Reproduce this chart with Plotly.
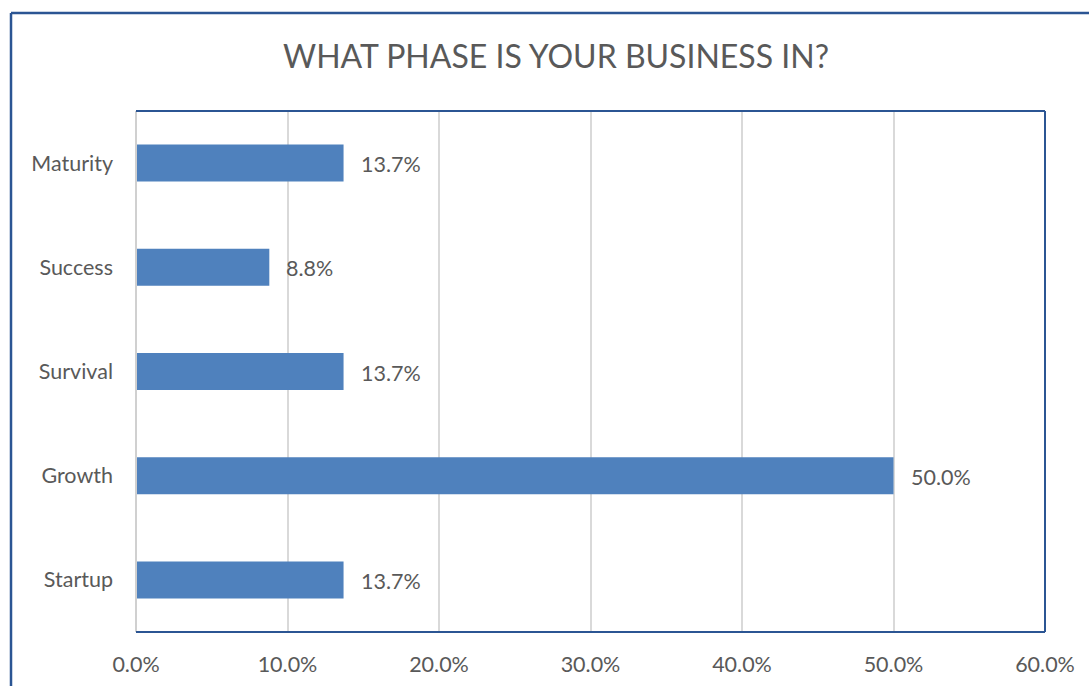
import plotly.graph_objects as go

# Survey results: business phase distribution
phases = ["Startup", "Growth", "Survival", "Success", "Maturity"]
shares = [13.7, 50.0, 13.7, 8.8, 13.7]
tick_vals = [0, 10, 20, 30, 40, 50, 60]
tick_text = ["0.0%", "10.0%", "20.0%", "30.0%", "40.0%", "50.0%", "60.0%"]

W, H = 1089, 686
L, R, T, B = 136, 44, 111, 54
pw, ph = W - L - R, H - T - B

def px_x(p):
    return (p - L) / pw

def px_y(p):
    return (H - B - p) / ph

BAR = "#4F81BD"
TXT = "#595959"
FRAME = "#2B5593"
FONT = "Lato"
FS = 21.5

fig = go.Figure(go.Bar(
    x=shares, y=phases, orientation="h",
    marker=dict(color=BAR, line=dict(width=0)),
    width=0.355, hoverinfo="skip",
))

for v, c in zip(shares, phases):
    fig.add_annotation(x=v, y=c, text=f"{v:.1f}%", showarrow=False,
                       xanchor="left", xshift=15, yshift=-1,
                       font=dict(family=FONT, size=FS, color=TXT))

shapes = [
    # gray zero line on the left edge
    dict(type="line", xref="paper", yref="paper", x0=0, x1=0, y0=0, y1=1,
         line=dict(color="#D0D0D0", width=2)),
    # plot-area border (top, right, bottom)
    dict(type="line", xref="paper", yref="paper", x0=0, x1=1, y0=1, y1=1,
         line=dict(color=FRAME, width=2)),
    dict(type="line", xref="paper", yref="paper", x0=1, x1=1, y0=0, y1=1,
         line=dict(color=FRAME, width=2)),
    dict(type="line", xref="paper", yref="paper", x0=0, x1=1, y0=0, y1=0,
         line=dict(color=FRAME, width=2)),
    # outer chart frame
    dict(type="line", xref="paper", yref="paper", x0=px_x(11), x1=px_x(11),
         y0=px_y(13), y1=px_y(700), line=dict(color=FRAME, width=2.5)),
    dict(type="line", xref="paper", yref="paper", x0=px_x(11), x1=px_x(1100),
         y0=px_y(13), y1=px_y(13), line=dict(color=FRAME, width=2.5)),
]

fig.update_layout(
    width=W, height=H,
    margin=dict(l=L, r=R, t=T, b=B, pad=0, autoexpand=False),
    paper_bgcolor="white", plot_bgcolor="white",
    showlegend=False,
    shapes=shapes,
    title=dict(text="WHAT PHASE IS YOUR BUSINESS IN?", x=px_x(556), xref="paper",
               xanchor="center", y=1 - 57 / H, yanchor="middle",
               font=dict(family=FONT, size=32, color=TXT)),
    xaxis=dict(range=[0, 60], tickvals=tick_vals, ticktext=tick_text,
               showgrid=True, gridcolor="#D9D9D9", gridwidth=1.5,
               zeroline=False, showline=False, ticks="", automargin=False,
               ticklabelstandoff=17,
               tickfont=dict(family=FONT, size=FS, color=TXT), fixedrange=True),
    yaxis=dict(categoryorder="array", categoryarray=phases,
               range=[-0.5, 4.5], showgrid=False, zeroline=False,
               showline=False, ticks="", automargin=False, ticklabelstandoff=22,
               tickfont=dict(family=FONT, size=FS, color=TXT), fixedrange=True),
)

fig.write_html("out.html")
